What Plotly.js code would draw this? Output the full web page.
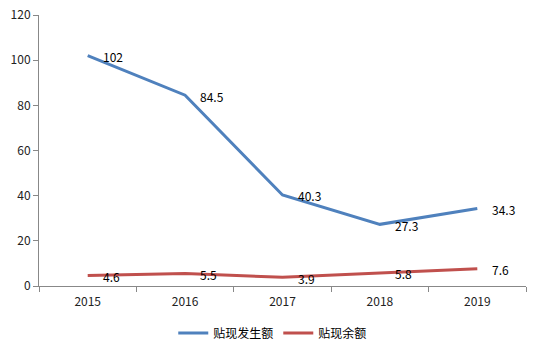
<!DOCTYPE html>
<html>
<head>
<meta charset="utf-8">
<script src="https://cdn.plot.ly/plotly-3.0.1.min.js"></script>
<style>html,body{margin:0;padding:0;background:#fff}#chart{width:541px;height:354px}</style>
</head>
<body>
<div id="chart"></div>
<script>
const years = ['2015', '2016', '2017', '2018', '2019'];
const occurAmount = [102, 84.5, 40.3, 27.3, 34.3];
const balanceAmount = [4.6, 5.5, 3.9, 5.8, 7.6];
const seriesNames = ['贴现发生额', '贴现余额'];

const font = 'Noto Sans CJK SC, DejaVu Sans, sans-serif';
const traces = [
  {x: years, y: occurAmount, name: seriesNames[0], type: 'scatter', mode: 'lines',
   line: {color: '#4F81BD', width: 3}},
  {x: years, y: balanceAmount, name: seriesNames[1], type: 'scatter', mode: 'lines',
   line: {color: '#C0504D', width: 3}}
];
const annotations = [];
[occurAmount, balanceAmount].forEach(series => {
  series.forEach((v, i) => annotations.push({
    x: i, y: v, xref: 'x', yref: 'y', text: String(v), showarrow: false,
    xanchor: 'left', yanchor: 'middle', xshift: 13, yshift: -1,
    font: {size: 12, color: '#000', family: font}
  }));
});
const layout = {
  width: 541, height: 354,
  margin: {l: 39, r: 15, t: 15, b: 68, autoexpand: false},
  paper_bgcolor: '#fff', plot_bgcolor: '#fff',
  font: {family: font, size: 12, color: '#222'},
  showlegend: true,
  annotations: annotations,
  legend: {orientation: 'h', x: 0.48, xanchor: 'center', y: -0.173, yanchor: 'middle',
           font: {size: 12, color: '#000'}, itemwidth: 30, tracegroupgap: 0},
  xaxis: {type: 'category', range: [-0.5, 4.5], tickson: 'boundaries', ticks: 'outside', ticklen: 5,
          tickcolor: '#888', showline: true, linecolor: '#888', linewidth: 1,
          showgrid: false, zeroline: false, tickfont: {size: 12, color: '#222'}, ticklabelstandoff: 5},
  yaxis: {range: [0, 120], dtick: 20, ticks: 'outside', ticklen: 5, tickcolor: '#888',
          showline: true, linecolor: '#888', linewidth: 1, showgrid: false, zeroline: false,
          tickfont: {size: 12, color: '#222'}}
};
Plotly.newPlot('chart', traces, layout, {displayModeBar: false, staticPlot: true});
</script>
</body>
</html>
